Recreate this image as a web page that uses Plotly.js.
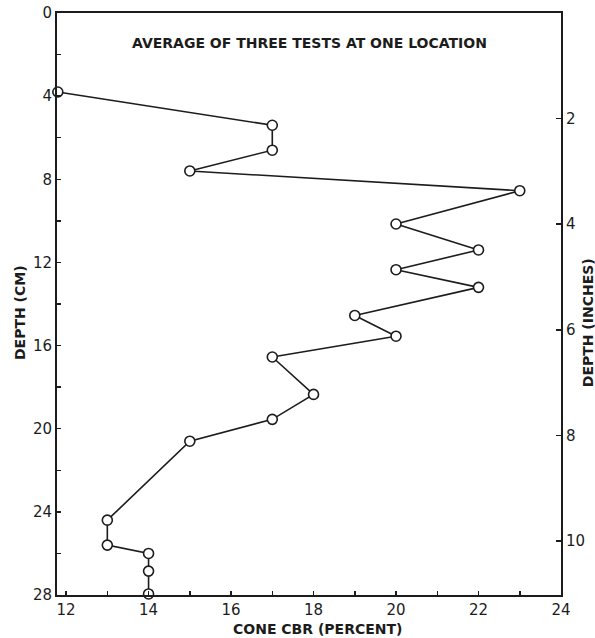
<!DOCTYPE html>
<html>
<head>
<meta charset="utf-8">
<script src="https://cdn.plot.ly/plotly-3.0.1.min.js"></script>
<style>
  html, body { margin: 0; padding: 0; background: #fff; }
  #chart { width: 595px; height: 638px; }
</style>
</head>
<body>
<div id="chart"></div>
<script>
// Cone CBR profile: average of three tests at one location
const cbrPercent = [11.8, 17, 17, 15, 23, 20, 22, 20, 22, 19, 20, 17, 18, 17, 15, 13, 13, 14, 14, 14];
const depthCm    = [3.8, 5.4, 6.6, 7.6, 8.55, 10.15, 11.4, 12.35, 13.2, 14.55, 15.55, 16.55, 18.35, 19.55, 20.6, 24.4, 25.6, 26.0, 26.85, 27.95];

const cbrTicks      = [12, 14, 16, 18, 20, 22, 24];
const depthCmTicks  = [0, 4, 8, 12, 16, 20, 24, 28];
const depthInTicks  = [2, 4, 6, 8, 10];

const CM_PER_INCH = 2.54;
const depthMax = 28;

const ink = '#1c1c1c';
const family = 'DejaVu Sans, Arial, sans-serif';
const tickFont = { family: family, size: 15, color: ink };
const titleFont = { family: family, size: 14, color: ink, weight: 'bold' };

const profile = {
  x: cbrPercent,
  y: depthCm,
  type: 'scatter',
  mode: 'lines+markers',
  line: { color: ink, width: 1.6 },
  marker: { symbol: 'circle', size: 10, color: '#fff', line: { color: ink, width: 1.6 } },
  cliponaxis: false,
  hoverinfo: 'x+y'
};

// same profile on the inch scale, kept invisible so the right axis has data
const profileInches = {
  x: cbrPercent,
  y: depthCm.map(d => d / CM_PER_INCH),
  yaxis: 'y2',
  type: 'scatter',
  mode: 'markers',
  marker: { opacity: 0 },
  hoverinfo: 'skip',
  showlegend: false
};

const axisLine = {
  showgrid: false,
  zeroline: false,
  showline: true,
  linecolor: ink,
  linewidth: 2,
  ticks: 'inside',
  ticklen: 4,
  tickwidth: 1.5,
  tickcolor: ink,
  tickfont: tickFont
};

// axis titles and the caption are placed as paper-anchored text
function label(text, x, y, angle) {
  return {
    text: text, xref: 'paper', yref: 'paper', x: x, y: y,
    xanchor: 'center', yanchor: 'middle', textangle: angle || 0,
    showarrow: false, font: titleFont
  };
}

const layout = {
  width: 595,
  height: 638,
  margin: { l: 57, r: 34, t: 13, b: 43 },
  paper_bgcolor: '#fff',
  plot_bgcolor: '#fff',
  showlegend: false,
  font: { family: family, size: 12, color: ink },
  xaxis: Object.assign({}, axisLine, {
    range: [11.78, 24],
    tickvals: cbrTicks,
    ticktext: cbrTicks.map(String),
    minor: { dtick: 1, tick0: 12, ticks: 'inside', ticklen: 4, tickwidth: 1.5, tickcolor: ink },
    mirror: true
  }),
  yaxis: Object.assign({}, axisLine, {
    range: [depthMax, 0],
    tickvals: depthCmTicks,
    ticktext: depthCmTicks.map(String),
    minor: { dtick: 2, tick0: 0, ticks: 'inside', ticklen: 4, tickwidth: 1.5, tickcolor: ink }
  }),
  yaxis2: Object.assign({}, axisLine, {
    overlaying: 'y',
    side: 'right',
    range: [depthMax / CM_PER_INCH, 0],
    tickvals: depthInTicks,
    ticktext: depthInTicks.map(String),
    ticklen: 5
  }),
  annotations: [
    label('AVERAGE OF THREE TESTS AT ONE LOCATION', 0.5, 0.948),
    label('CONE CBR (PERCENT)', 0.516, -0.058),
    label('DEPTH (CM)', -0.0734, 0.4845, -90),
    label('DEPTH (INCHES)', 1.0536, 0.467, -90)
  ]
};

Plotly.newPlot('chart', [profile, profileInches], layout, { displayModeBar: false, staticPlot: true });
</script>
</body>
</html>
